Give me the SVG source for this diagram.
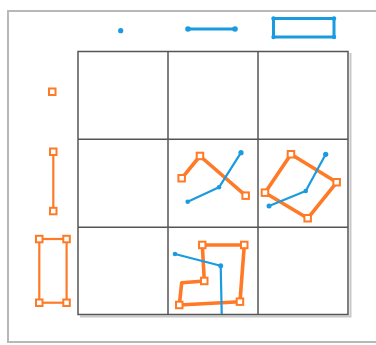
<svg xmlns="http://www.w3.org/2000/svg" width="376" height="345" viewBox="0 0 376 345">
<style>
.frame{fill:#fff;stroke:#b8b8b8;stroke-width:2}
.grid{fill:none;stroke:#555;stroke-width:1.5}
.gs{fill:none;stroke:#c8c8c8;stroke-width:2}
.o{fill:none;stroke:#ff7a26;stroke-width:3.6;stroke-linejoin:round}
.ot{fill:none;stroke:#ff7a26;stroke-width:2.2}
.h{fill:#fff;stroke:#ff7a26;stroke-width:2}
.b{fill:none;stroke:#1a9be0;stroke-width:2.2;stroke-linejoin:round}
.bt{fill:none;stroke:#1a9be0;stroke-width:3}
.bd{fill:#1a9be0}
</style>
<rect width="376" height="345" fill="#fff"/>
<rect class="frame" x="8" y="11" width="380" height="331"/>
<g id="grid">
<path class="gs" d="M80 316.5H350.5V53"/>
<rect class="grid" x="78" y="51.5" width="270" height="263"/>
<path class="grid" d="M168 51.5V314.5M258 51.5V314.5M78 139.3H348M78 227.3H348"/>
</g>
<g id="icon-blue-point"><circle class="bd" cx="120.7" cy="30.7" r="2.6"/></g>
<g id="icon-blue-line">
<line class="bt" x1="188" y1="29" x2="235" y2="29"/>
<circle class="bd" cx="188" cy="29" r="2.8"/><circle class="bd" cx="235" cy="29" r="2.8"/>
</g>
<g id="icon-blue-rect">
<rect class="bt" x="273.5" y="18.5" width="60.5" height="18.5"/>
<circle class="bd" cx="273.5" cy="18.5" r="2.2"/><circle class="bd" cx="334" cy="18.5" r="2.2"/>
<circle class="bd" cx="273.5" cy="37" r="2.2"/><circle class="bd" cx="334" cy="37" r="2.2"/>
</g>
<g id="icon-orange-point"><rect class="h" x="49" y="88.5" width="6.5" height="6.5"/></g>
<g id="icon-orange-line">
<line class="ot" x1="53.3" y1="151.7" x2="53.3" y2="211"/>
<rect class="h" x="50" y="148.5" width="6.5" height="6.5"/><rect class="h" x="50" y="207.8" width="6.5" height="6.5"/>
</g>
<g id="icon-orange-rect">
<rect class="ot" x="39.3" y="239" width="27.3" height="63.7"/>
<rect class="h" x="36" y="235.8" width="6.5" height="6.5"/><rect class="h" x="63.3" y="235.8" width="6.5" height="6.5"/>
<rect class="h" x="36" y="299.5" width="6.5" height="6.5"/><rect class="h" x="63.3" y="299.5" width="6.5" height="6.5"/>
</g>
<g id="cell-line-line">
<polyline class="o" points="181.7,178.3 200,156 245.7,195.7"/>
<rect class="h" x="178.4" y="175" width="6.5" height="6.5"/><rect class="h" x="196.7" y="152.7" width="6.5" height="6.5"/><rect class="h" x="242.4" y="192.4" width="6.5" height="6.5"/>
<polyline class="b" points="187.7,201.7 219,187.3 241,152.7"/>
<circle class="bd" cx="187.7" cy="201.7" r="2.3"/><circle class="bd" cx="219" cy="187.3" r="2.3"/><circle class="bd" cx="241" cy="152.7" r="2.6"/>
</g>
<g id="cell-line-rect">
<polygon class="o" points="265,192.7 291,154.3 336.7,182.3 307.7,218.3"/>
<rect class="h" x="261.7" y="189.4" width="6.5" height="6.5"/><rect class="h" x="287.7" y="151" width="6.5" height="6.5"/><rect class="h" x="333.4" y="179" width="6.5" height="6.5"/><rect class="h" x="304.4" y="215" width="6.5" height="6.5"/>
<polyline class="b" points="269,206 305.7,191 325.7,154.3"/>
<circle class="bd" cx="269" cy="206" r="2.5"/><circle class="bd" cx="305.7" cy="191" r="2.3"/><circle class="bd" cx="325.7" cy="154.3" r="2.6"/>
</g>
<g id="cell-rect-line">
<polygon class="o" points="204.3,281 202.3,245 244.3,245 240,301.7 179.3,305 181.7,282.7"/>
<rect class="h" x="201" y="277.7" width="6.5" height="6.5"/><rect class="h" x="199" y="241.7" width="6.5" height="6.5"/><rect class="h" x="241" y="241.7" width="6.5" height="6.5"/><rect class="h" x="236.7" y="298.4" width="6.5" height="6.5"/><rect class="h" x="176" y="301.7" width="6.5" height="6.5"/>
<polyline class="b" points="175,254 220.7,265.7 221.7,314"/>
<circle class="bd" cx="175" cy="254" r="2.3"/><circle class="bd" cx="220.7" cy="265.7" r="2.5"/>
</g>
</svg>
